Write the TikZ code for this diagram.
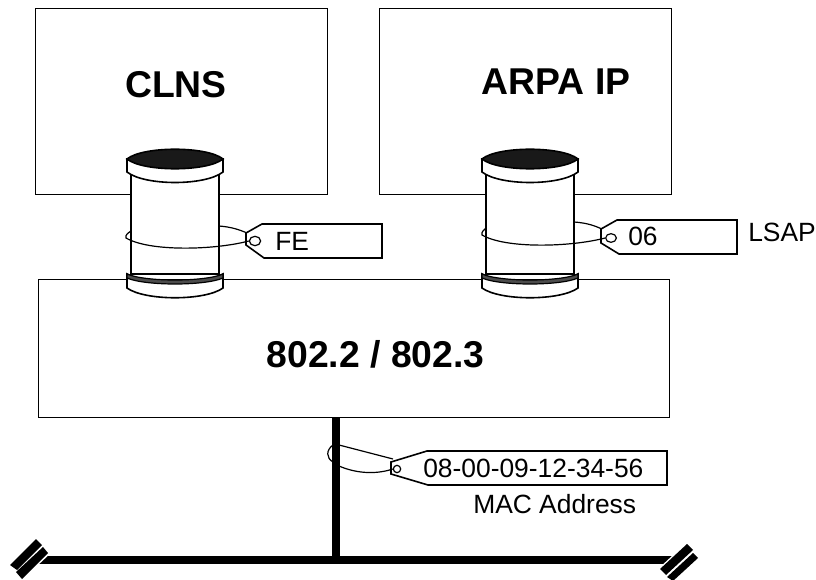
\documentclass[tikz,border=0pt]{standalone}
\usepackage{fontspec}
\usetikzlibrary{shapes.geometric}
\setmainfont{Liberation Sans}
\tikzset{
  box/.style={draw=black,fill=white,line width=1pt},
  outl/.style={draw=black,line width=1.2pt},
  strng/.style={draw=black,line width=0.9pt},
  hole/.style={draw=black,line width=0.9pt,ellipse,inner sep=0pt},
  wire/.style={draw=black,line width=5.6pt},
  big/.style={font=\fontsize{28}{30}\selectfont\bfseries,inner sep=0pt},
  small/.style={font=\fontsize{19.8}{22}\selectfont,inner sep=0pt},
  spool/.pic={
    \path[outl,fill=white] (-44,12) -- (-44,115) -- (44,115) -- (44,12) -- cycle;
    \path[outl,fill=white] (-48,0) -- (-48,13) .. controls (-30,27) and (30,27) .. (48,13) -- (48,0) -- cycle;
    \path[outl,fill=black!90] (-48,0) .. controls (-32,-13) and (32,-13) .. (48,0) .. controls (32,13) and (-32,13) .. (-48,0) -- cycle;
    \path[outl,fill=white] (-48,115) -- (-48,129) .. controls (-30,142) and (30,142) .. (48,129) -- (48,115) .. controls (30,126) and (-30,126) .. (-48,115) -- cycle;
    \path[draw=black,fill=black!70,line width=0.9pt] (-48,115) .. controls (-30,123) and (30,123) .. (48,115) -- (48,119) .. controls (30,127) and (-30,127) .. (-48,119) -- cycle;
  }
}
\begin{document}
\begin{tikzpicture}[x=0.75pt,y=-0.75pt]
\useasboundingbox (0,0) rectangle (816,580);
% layers
\node[box,minimum width=219pt,minimum height=139.5pt,inner sep=0pt,anchor=north west] (clns) at (35,8) {};
\node[box,minimum width=219pt,minimum height=139.5pt,inner sep=0pt,anchor=north west] (arpa) at (379,8) {};
\node[box,minimum width=473.25pt,minimum height=103.5pt,inner sep=0pt,anchor=north west] (mac) at (38,279) {};
\node[big] (clnsT) at (176,85) {CLNS};
\node[big] (arpaT) at (556,82) {ARPA IP};
\node[big] (macT) at (375.5,354) {802.2 / 802.3};
% spools
\pic at (175,159) {spool};
\pic at (530,159) {spool};
% wires
\coordinate (vtop) at (336,417);
\coordinate (hl) at (38,560);
\coordinate (hr) at (672,560);
\coordinate (vbot) at (336,560);
\draw[wire] (vtop) -- (vbot);
\draw[wire,line width=6pt] (hl) -- (hr);
\path[fill=white] (8,565) -- (38,537) -- (52,552) -- (22,580) -- cycle;
\path[fill=black] (10,565) -- (36,539) -- (42,545) -- (17,570) -- cycle;
\path[fill=black] (16,572) -- (43,547) -- (48,553) -- (22,579) -- cycle;
\path[fill=white] (658,569) -- (688,541) -- (700,558) -- (672,582) -- cycle;
\path[fill=black] (660,569) -- (687,544) -- (693,550) -- (666,575) -- cycle;
\path[fill=black] (667,577) -- (693,553) -- (698,558) -- (673,581) -- cycle;
% tags
\path[outl,fill=white] (246,233) -- (262,224) -- (382,224) -- (382,258) -- (264,258) -- (246,245) -- cycle;
\node[small,anchor=west] (feT) at (275,241) {FE};
\path[outl,fill=white] (601,229) -- (617,220) -- (737,220) -- (737,254) -- (619,254) -- (601,243) -- cycle;
\node[small,anchor=west] (sixT) at (628,236) {06};
\node[small,anchor=west] (lsapT) at (748,232) {LSAP};
\path[outl,fill=white] (391,462) -- (427,451) -- (667,451) -- (667,485) -- (428,485) -- (391,474) -- cycle;
\node[small,anchor=west] (macaddr) at (423,468) {08-00-09-12-34-56};
\node[small,anchor=west] (macL) at (473,504) {MAC Address};
% holes and strings
\node[hole,minimum width=8.5pt,minimum height=7pt] (h1) at (255,241) {};
\node[hole,minimum width=8pt,minimum height=6.5pt] (h2) at (611,238) {};
\node[hole,minimum width=5.5pt,minimum height=5.5pt] (h3) at (397,469) {};
\draw[strng] (219,226) .. controls (232,227) and (240,230) .. (247,233);
\draw[strng] (h1.west) .. controls (215,250) and (150,252) .. (126,238) .. controls (125,235) and (128,233) .. (131,231);
\draw[strng] (574,222) .. controls (588,223) and (595,226) .. (602,229);
\draw[strng] (h2.west) .. controls (571,247) and (506,249) .. (482,235) .. controls (481,232) and (484,230) .. (486,228);
\draw[strng] (339,445) -- (393,459);
\draw[strng] (h3.west) .. controls (375,475) and (355,473) .. (339,466);
\draw[strng] (333,445) .. controls (326,450) and (326,458) .. (333,462);
\end{tikzpicture}
\end{document}
